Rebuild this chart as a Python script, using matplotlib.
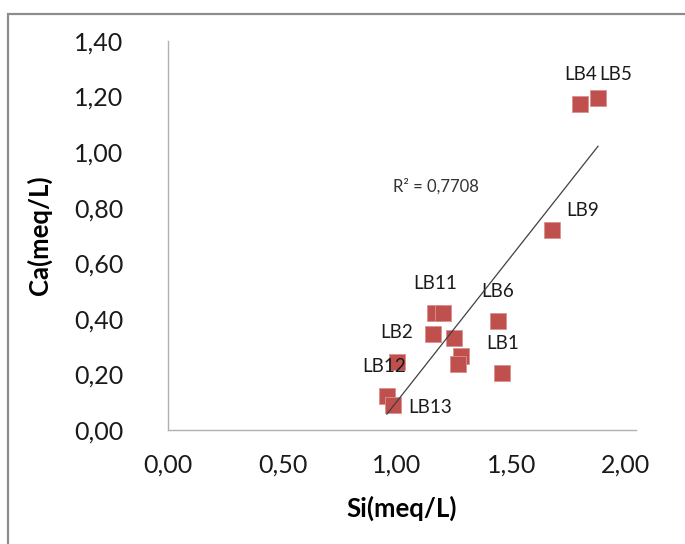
import numpy as np
import matplotlib
matplotlib.use("Agg")
import matplotlib.pyplot as plt
from matplotlib.patches import Rectangle
from matplotlib.ticker import FuncFormatter

plt.rcParams['font.family'] = ['Lato', 'DejaVu Sans']

# Si vs Ca concentrations (meq/L) per sample
si = [1.80, 1.878, 1.677, 1.44, 1.46, 1.166, 1.201, 1.157, 1.249, 1.28, 1.266, 1.00, 0.956, 0.983]
ca = [1.173, 1.195, 0.72, 0.392, 0.205, 0.421, 0.421, 0.345, 0.33, 0.267, 0.237, 0.245, 0.122, 0.09]
names = ['LB4', 'LB5', 'LB9', 'LB6', 'LB1', 'LB11', '', '', '', '', '', 'LB2', 'LB12', 'LB13']
r2_text = 'R² = 0,7708'

x_ticks = [0.0, 0.5, 1.0, 1.5, 2.0]
y_ticks = [0.0, 0.2, 0.4, 0.6, 0.8, 1.0, 1.2, 1.4]

# label offsets in points (dx, dy)
label_offsets = [(0, 21), (13, 17), (22, 14), (0, 21), (0, 21), (0, 21),
                 (0, 0), (0, 0), (0, 0), (0, 0), (0, 0), (0, 21), (-2, 21), (27, -2)]

fig = plt.figure(figsize=(6.85, 5.44), dpi=100)
ax = fig.add_axes([168/685, 1 - 430/544, (636 - 168)/685, (430 - 41)/544])

# chart-area frame
fig.patches.append(Rectangle((8/685, -0.1), 1.2, 1 - 14/544 + 0.1, transform=fig.transFigure,
                             fill=False, edgecolor='#8c8c8c', linewidth=1.6))

ax.scatter(si, ca, marker='s', s=120, color='#c0504d', edgecolors='#d9928f',
           linewidths=0.6, zorder=3)

# linear trendline over the data range
coef = np.polyfit(si, ca, 1)
xs = np.array([min(si), max(si)])
ax.plot(xs, np.polyval(coef, xs), color='#404040', linewidth=0.9, zorder=4)

for xv, yv, nm, off in zip(si, ca, names, label_offsets):
    if nm:
        ax.annotate(nm, (xv, yv), xytext=off, textcoords='offset points',
                    ha='center', va='center', fontsize=13.5, color='#1a1a1a')

ax.text(1.17, 0.877, r2_text, ha='center', va='center', fontsize=12, color='#333333')

ax.set_xlim(0, 2.044)
ax.set_ylim(0, 1.4)
ax.set_xticks(x_ticks)
ax.set_yticks(y_ticks)
fmt = FuncFormatter(lambda v, p: f'{v:.2f}'.replace('.', ','))
ax.xaxis.set_major_formatter(fmt)
ax.yaxis.set_major_formatter(fmt)
ax.tick_params(axis='both', length=0, labelsize=18, colors='#1a1a1a')
ax.tick_params(axis='y', pad=32)
ax.tick_params(axis='x', pad=17)

for s in ['top', 'right']:
    ax.spines[s].set_visible(False)
for s in ['left', 'bottom']:
    ax.spines[s].set_color('#b0b0b0')
    ax.spines[s].set_linewidth(1.0)

ax.set_xlabel('Si(meq/L)', fontsize=18.5, fontweight='bold', labelpad=14)
ax.set_ylabel('Ca(meq/L)', fontsize=18.5, fontweight='bold', labelpad=16)

fig.savefig('out.png', dpi=100)
